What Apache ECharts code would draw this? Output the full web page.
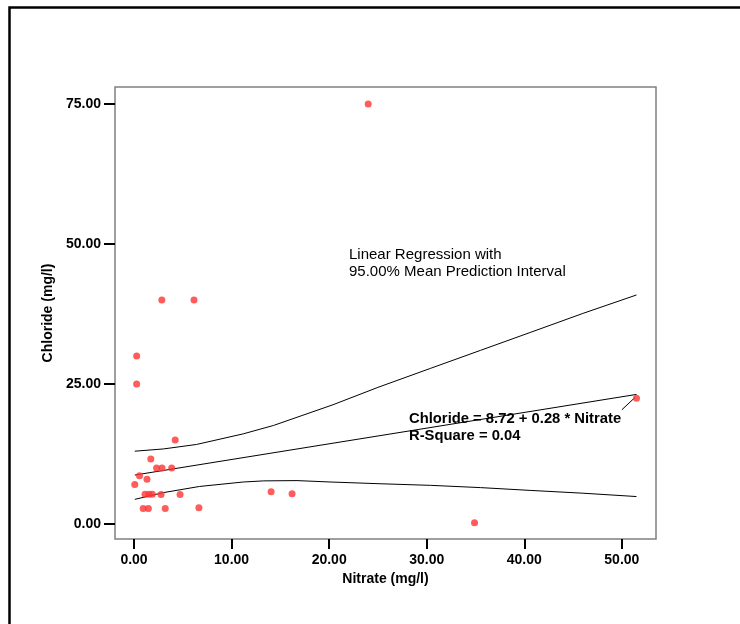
<!DOCTYPE html>
<html>
<head>
<meta charset="utf-8">
<script src="https://cdn.jsdelivr.net/npm/echarts@6/dist/echarts.min.js"></script>
<style>html,body{margin:0;padding:0;background:#fff}#c{width:740px;height:624px}</style>
</head>
<body>
<div id="c"></div>
<script>
// Observed data (Nitrate vs Chloride, mg/l)
var nitrate  = [24.0, 51.5, 34.9, 14.05, 16.2, 2.85, 6.15, 0.27, 0.27, 4.22, 1.72, 2.31, 2.87, 3.86, 0.56, 1.33, 0.08, 1.13, 1.54, 1.88, 2.77, 4.72, 0.94, 1.47, 3.2, 6.65];
var chloride = [75.0, 22.45, 0.24, 5.77, 5.4, 40.0, 40.0, 30.0, 25.0, 15.0, 11.6, 10.0, 10.0, 10.0, 8.6, 8.0, 7.05, 5.3, 5.3, 5.3, 5.25, 5.25, 2.75, 2.75, 2.75, 2.9];
// Fitted line and 95% mean prediction interval
var fitX   = [0.08, 51.5];
var fitY   = [8.74, 23.14];
var upperX = [0.08, 3.0, 6.4, 11.2, 14.3, 20.4, 25.0, 30.4, 35.5, 40.6, 46.0, 51.5];
var upperY = [13.0, 13.4, 14.2, 16.1, 17.6, 21.3, 24.4, 27.8, 31.0, 34.2, 37.6, 40.9];
var lowerX = [0.08, 3.0, 6.7, 11.2, 13.3, 16.7, 20.1, 25.0, 30.4, 35.5, 40.6, 46.0, 51.5];
var lowerY = [4.4, 5.6, 6.7, 7.5, 7.7, 7.75, 7.5, 7.2, 6.9, 6.5, 6.0, 5.5, 4.9];
// leader line from equation label to the last point
var leaderX = [50.0, 51.35];
var leaderY = [20.4, 22.6];
var xTicks = [0, 10, 20, 30, 40, 50];
var yTicks = [0, 25, 50, 75];

function zip(a, b) { return a.map(function (v, i) { return [v, b[i]]; }); }

var font = "'Liberation Sans', Arial, sans-serif";
var chart = echarts.init(document.getElementById('c'), null, {renderer: 'canvas'});
var lineStyle = {color: '#000', width: 1};
chart.setOption({
  animation: false,
  backgroundColor: '#fff',
  grid: {left: 115, top: 87, right: 84, bottom: 85, show: true, borderColor: '#808080', borderWidth: 1.5, backgroundColor: 'transparent'},
  xAxis: {
    type: 'value', min: -1.95, max: 53.5,
    name: 'Nitrate (mg/l)', nameLocation: 'middle', nameGap: 31,
    nameTextStyle: {fontFamily: font, fontWeight: 'bold', fontSize: 14, color: '#000'},
    axisLine: {show: false, onZero: false},
    splitLine: {show: false},
    axisTick: {show: true, inside: false, length: 10, customValues: xTicks, lineStyle: {color: '#000', width: 2}},
    axisLabel: {customValues: xTicks, margin: 14, fontFamily: font, fontWeight: 'bold', fontSize: 14, color: '#000',
      formatter: function (v) { return v.toFixed(2); }}
  },
  yAxis: {
    type: 'value', min: -2.68, max: 78.04,
    name: 'Chloride (mg/l)', nameLocation: 'middle', nameGap: 53, nameRotate: 90,
    nameTextStyle: {fontFamily: font, fontWeight: 'bold', fontSize: 14, color: '#000'},
    axisLine: {show: false, onZero: false},
    splitLine: {show: false},
    axisTick: {show: true, inside: false, length: 11, customValues: yTicks, lineStyle: {color: '#000', width: 2}},
    axisLabel: {customValues: yTicks, margin: 14, fontFamily: font, fontWeight: 'bold', fontSize: 14, color: '#000',
      formatter: function (v) { return v.toFixed(2); }}
  },
  series: [
    {type: 'line', data: zip(upperX, upperY), symbol: 'none', lineStyle: lineStyle, z: 2},
    {type: 'line', data: zip(fitX, fitY), symbol: 'none', lineStyle: lineStyle, z: 2},
    {type: 'line', data: zip(lowerX, lowerY), symbol: 'none', lineStyle: lineStyle, z: 2},
    {type: 'line', data: zip(leaderX, leaderY), symbol: 'none', lineStyle: lineStyle, z: 2},
    {type: 'scatter', data: zip(nitrate, chloride), symbol: 'circle', symbolSize: 7,
      itemStyle: {color: '#ff3333'}, z: 3}
  ],
  graphic: [
    {type: 'rect', shape: {x: 9.5, y: 7.5, width: 760, height: 640}, style: {fill: 'none', stroke: '#000', lineWidth: 2.5}, silent: true},
    {type: 'text', left: 349, top: 246, style: {text: 'Linear Regression with\n95.00% Mean Prediction Interval', font: '15px ' + font, fill: '#000', lineHeight: 17}},
    {type: 'text', left: 409, top: 410, style: {text: 'Chloride = 8.72 + 0.28 * Nitrate\nR-Square = 0.04', font: 'bold 14.8px ' + font, fill: '#000', lineHeight: 17.5}}
  ]
});
</script>
</body>
</html>
